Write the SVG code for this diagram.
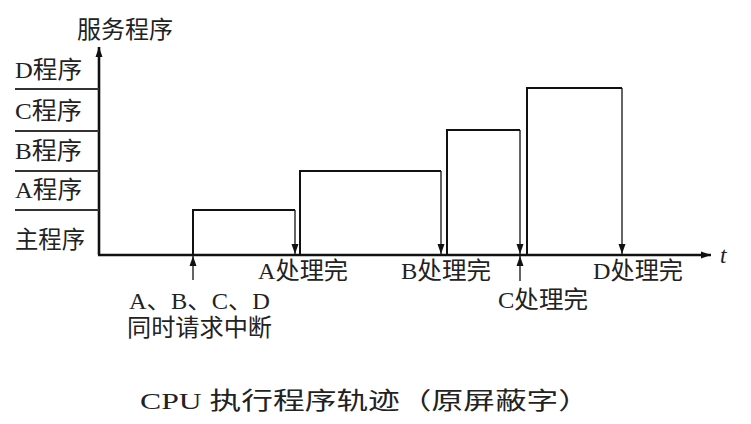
<svg xmlns="http://www.w3.org/2000/svg" width="751" height="424" viewBox="0 0 751 424">
<defs>
<style>
text{font-family:"Liberation Serif","Noto Sans CJK SC",serif;fill:#222;font-size:23.5px}
.ax{stroke:#111;stroke-width:2.6;fill:none}
.p{stroke:#111;stroke-width:2;fill:none}
.a{stroke:#111;stroke-width:1.3;fill:none}
.tk{stroke:#333;stroke-width:1.8}
</style>
<marker id="ah" viewBox="0 0 10 10" refX="10" refY="5" markerWidth="10" markerHeight="10" markerUnits="userSpaceOnUse" orient="auto"><path d="M0,1.5 L10,5 L0,8.5 Z" fill="#111"/></marker>
<marker id="big" viewBox="0 0 10 10" refX="10" refY="5" markerWidth="12" markerHeight="10" markerUnits="userSpaceOnUse" orient="auto"><path d="M0,1.5 L10,5 L0,8.5 Z" fill="#111"/></marker>
</defs>
<rect width="751" height="424" fill="#fff"/>
<g id="axes">
<line class="ax" x1="99" y1="255" x2="99" y2="47" marker-end="url(#big)"/>
<line class="ax" x1="98" y1="255" x2="711" y2="255" marker-end="url(#big)"/>
<text x="77" y="38" textLength="96" lengthAdjust="spacingAndGlyphs">服务程序</text>
<text x="720" y="263" font-style="italic" font-size="27">t</text>
</g>
<g id="levels">
<line class="tk" x1="15" y1="89" x2="99" y2="89"/>
<line class="tk" x1="15" y1="131" x2="99" y2="131"/>
<line class="tk" x1="15" y1="171" x2="99" y2="171"/>
<line class="tk" x1="15" y1="210" x2="99" y2="210"/>
<text x="15" y="78" textLength="67" lengthAdjust="spacingAndGlyphs">D程序</text>
<text x="15" y="119" textLength="67" lengthAdjust="spacingAndGlyphs">C程序</text>
<text x="15" y="159" textLength="67" lengthAdjust="spacingAndGlyphs">B程序</text>
<text x="15" y="198" textLength="67" lengthAdjust="spacingAndGlyphs">A程序</text>
<text x="15" y="248" textLength="70" lengthAdjust="spacingAndGlyphs">主程序</text>
</g>
<g id="connectors">
<line class="a" x1="193" y1="280" x2="193" y2="256" marker-end="url(#ah)"/>
<polyline class="p" points="193,255 193,210 295,210"/>
<line class="a" x1="295" y1="210" x2="295" y2="254" marker-end="url(#ah)"/>
<polyline class="p" points="300,255 300,171 441,171"/>
<line class="a" x1="441" y1="171" x2="441" y2="254" marker-end="url(#ah)"/>
<polyline class="p" points="447,255 447,130 520,130"/>
<line class="a" x1="520" y1="130" x2="520" y2="254" marker-end="url(#ah)"/>
<line class="a" x1="520" y1="281" x2="520" y2="256" marker-end="url(#ah)"/>
<polyline class="p" points="527,255 527,88 622,88"/>
<line class="a" x1="622" y1="88" x2="622" y2="254" marker-end="url(#ah)"/>
</g>
<g id="labels">
<text x="258" y="279" textLength="90" lengthAdjust="spacingAndGlyphs">A处理完</text>
<text x="401" y="279" textLength="90" lengthAdjust="spacingAndGlyphs">B处理完</text>
<text x="498" y="308" textLength="90" lengthAdjust="spacingAndGlyphs">C处理完</text>
<text x="593" y="279" textLength="90" lengthAdjust="spacingAndGlyphs">D处理完</text>
<text x="129" y="309" textLength="141" lengthAdjust="spacingAndGlyphs">A、B、C、D</text>
<text x="127" y="336" textLength="145" lengthAdjust="spacingAndGlyphs">同时请求中断</text>
</g>
<g id="caption">
<text x="140" y="409" font-size="31" textLength="450" lengthAdjust="spacingAndGlyphs">CPU 执行程序轨迹（原屏蔽字）</text>
</g>
</svg>
